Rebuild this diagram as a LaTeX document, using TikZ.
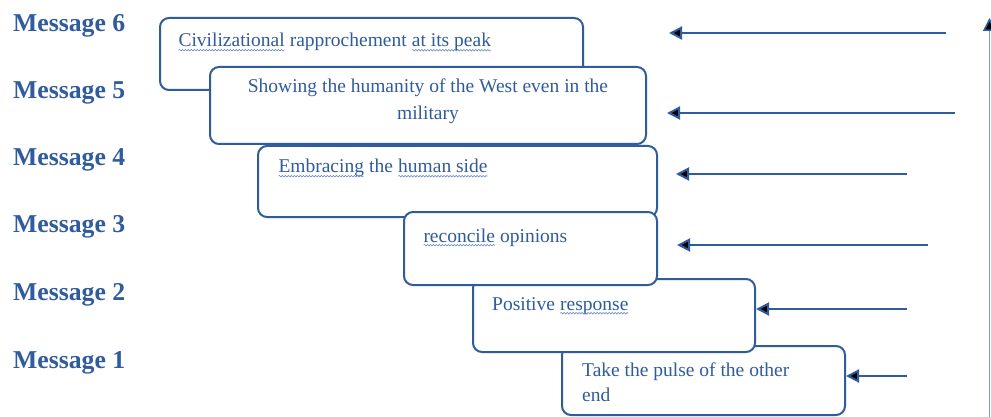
\documentclass[tikz,border=0pt]{standalone}
\usepackage{fontspec}
\setmainfont{Liberation Serif}
\usetikzlibrary{arrows.meta,decorations.pathmorphing}

\definecolor{ink}{RGB}{48,92,158}
\definecolor{wave}{RGB}{110,140,200}
\definecolor{axis}{RGB}{125,155,212}

% word with a wavy underline
\newcommand\wavy[1]{\tikz[baseline=(w.base)]{%
  \node[inner sep=0pt,outer sep=0pt] (w) {#1};%
  \draw[wave,line width=0.6pt,decorate,
        decoration={snake,amplitude=0.8pt,segment length=3pt}]
    ([yshift=-3.2pt]w.base west) -- ([yshift=-3.2pt]w.base east);}}

\begin{document}
\begin{tikzpicture}[x=1pt,y=-1pt,
  msgbox/.style={draw=ink,line width=2pt,rounded corners=9pt,fill=white,
    anchor=north west,inner sep=0pt},
  boxtext/.style={text=ink,font=\fontsize{19.5}{25}\selectfont,inner sep=0pt,
    anchor=base west},
  msglabel/.style={text=ink,font=\fontsize{25.7}{30}\selectfont\bfseries,
    inner sep=0pt,anchor=base west},
  arr/.style={draw=ink,line width=2pt,-{Triangle[length=13pt,width=13pt]}},
  rise/.style={draw=axis,line width=1.6pt,-{Triangle[length=13pt,width=13pt,color=ink]}}]

\fill[white] (0,0) rectangle (991,417);
\useasboundingbox (0,0) rectangle (991,417);

% level labels
\node[msglabel] (m6) at (13,32)  {Message 6};
\node[msglabel] (m5) at (13,99)  {Message 5};
\node[msglabel] (m4) at (13,165) {Message 4};
\node[msglabel] (m3) at (13,232) {Message 3};
\node[msglabel] (m2) at (13,300) {Message 2};
\node[msglabel] (m1) at (13,368) {Message 1};

% staircase of message boxes
\node[msgbox,minimum width=423pt,minimum height=72pt] (b6) at (159,17)  {};
\node[msgbox,minimum width=436pt,minimum height=77pt] (b5) at (209,66)  {};
\node[msgbox,minimum width=399pt,minimum height=71pt] (b4) at (257,145) {};
\node[msgbox,minimum width=283pt,minimum height=69pt] (b1) at (561,345) {};
\node[msgbox,minimum width=282pt,minimum height=73pt] (b2) at (472,278) {};
\node[msgbox,minimum width=253pt,minimum height=73pt] (b3) at (403,211) {};

% box texts
\node[boxtext] (t6) at ([xshift=19pt,yshift=-30pt]b6.north west)
  {\wavy{Civilizational} rapprochement \wavy{at its peak}};
\node[boxtext,anchor=base] (t5a) at ([yshift=-27pt]b5.north)
  {Showing the humanity of the West even in the};
\node[boxtext,anchor=base] (t5b) at ([yshift=-54pt]b5.north)
  {military};
\node[boxtext] (t4) at ([xshift=21pt,yshift=-28pt]b4.north west)
  {\wavy{Embracing} the \wavy{human side}};
\node[boxtext] (t3) at ([xshift=20pt,yshift=-31pt]b3.north west)
  {\wavy{reconcile} opinions};
\node[boxtext] (t2) at ([xshift=20pt,yshift=-32pt]b2.north west)
  {Positive \wavy{response}};
\node[boxtext] (t1a) at ([xshift=21pt,yshift=-31pt]b1.north west)
  {Take the pulse of the other};
\node[boxtext] (t1b) at ([xshift=21pt,yshift=-56pt]b1.north west)
  {end};

% incoming arrows
\coordinate (s6) at (946,33);  \coordinate (e6) at (669,33);
\coordinate (s5) at (955,113); \coordinate (e5) at (667,113);
\coordinate (s4) at (907,174); \coordinate (e4) at (676,174);
\coordinate (s3) at (928,245); \coordinate (e3) at (677,245);
\coordinate (s2) at (907,309);
\coordinate (s1) at (907,376);
\draw[arr] (s6) -- (e6);
\draw[arr] (s5) -- (e5);
\draw[arr] (s4) -- (e4);
\draw[arr] (s3) -- (e3);
\draw[arr] (s2) -- (s2 -| b2.east);
\draw[arr] (s1) -- (s1 -| b1.east);

% rising axis on the right
\coordinate (vb) at (989.5,417);
\coordinate (vt) at (989.5,18);
\draw[rise] (vb) -- (vt);
\end{tikzpicture}
\end{document}
